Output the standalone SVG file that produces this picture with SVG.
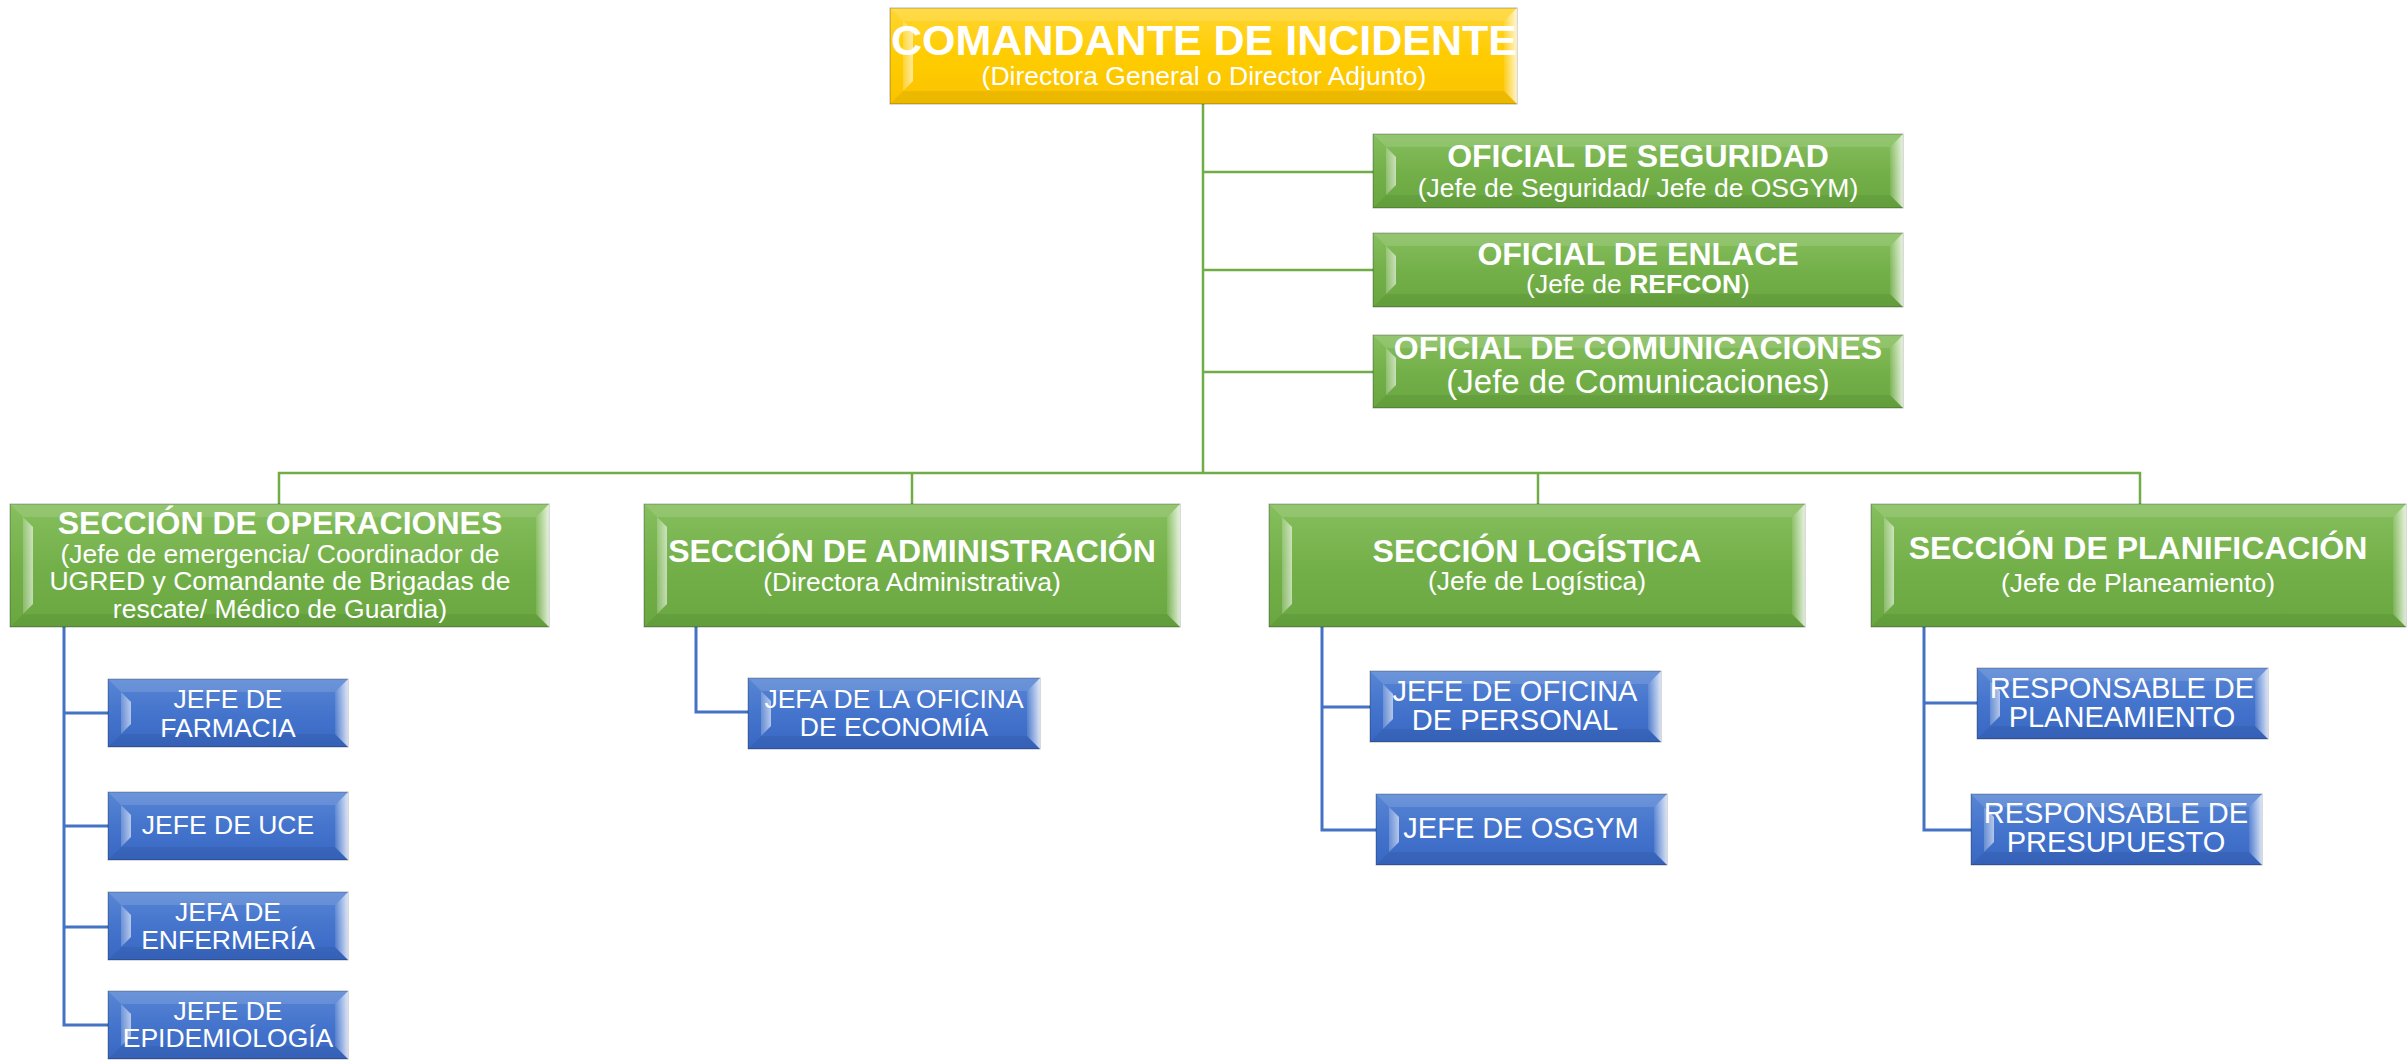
<svg xmlns="http://www.w3.org/2000/svg" width="2407" height="1060" viewBox="0 0 2407 1060">
<style>
  .g .face{fill:url(#faceG)}
  .b .face{fill:url(#faceB)}
  .y .face{fill:url(#faceY)}
  .face{stroke:#000;stroke-opacity:.3;stroke-width:1}
  .top{fill:#fff;fill-opacity:.12}
  .bot{fill:#000;fill-opacity:.06}
  .ls{fill:url(#lstrip)}
  .rb{fill:url(#rbev)}
  text{fill:#fff;font-family:"Liberation Sans",Arial,sans-serif;text-anchor:middle}
  .h{font-weight:bold;font-size:32px}
  .s{font-size:26.5px}
  .c{font-size:26.5px}
  .c2{font-size:29px}
  .lg{stroke:#70ad47;stroke-width:2.5;fill:none}
  .lb{stroke:#4472c4;stroke-width:3;fill:none}
</style>
<defs>
  <linearGradient id="faceG" x1="0" y1="0" x2="0" y2="1"><stop offset="0" stop-color="#86bf5e"/><stop offset="0.5" stop-color="#74b04a"/><stop offset="1" stop-color="#69a740"/></linearGradient>
  <linearGradient id="faceB" x1="0" y1="0" x2="0" y2="1"><stop offset="0" stop-color="#5886d5"/><stop offset="0.5" stop-color="#4474cc"/><stop offset="1" stop-color="#3868c3"/></linearGradient>
  <linearGradient id="faceY" x1="0" y1="0" x2="0" y2="1"><stop offset="0" stop-color="#ffd633"/><stop offset="0.5" stop-color="#ffcc00"/><stop offset="1" stop-color="#fac300"/></linearGradient>
  <linearGradient id="lstrip" x1="0" y1="0" x2="1" y2="0"><stop offset="0" stop-color="#fff" stop-opacity=".2"/><stop offset="1" stop-color="#fff" stop-opacity=".6"/></linearGradient>
  <linearGradient id="rbev" x1="0" y1="0" x2="1" y2="0"><stop offset="0" stop-color="#fff" stop-opacity=".1"/><stop offset="1" stop-color="#fff" stop-opacity=".8"/></linearGradient>
</defs>
<rect width="2407" height="1060" fill="#fff"/>
<g id="connectors">
  <path class="lg" d="M1203,104 V473" stroke-width="3"/>
  <path class="lg" d="M1203,172 H1373 M1203,270 H1373 M1203,372 H1373"/>
  <path class="lg" d="M279,504 V473 H2140 V504 M912,473 V504 M1538,473 V504"/>
  <path class="lb" d="M64,627 V1025 H108 M64,713 H108 M64,826 H108 M64,927 H108"/>
  <path class="lb" d="M696,627 V712 H748"/>
  <path class="lb" d="M1322,627 V830 H1376 M1322,707 H1370"/>
  <path class="lb" d="M1924,627 V830 H1971 M1924,703 H1977"/>
</g>
<g id="comandante" class="y">
  <rect class="face" x="890" y="8" width="627" height="96"/>
  <polygon class="top" points="890,8 1517,8 1504,21 903,21"/>
  <polygon class="bot" points="890,104 1517,104 1504,91 903,91"/>
  <polygon class="ls" points="903,21 913,31 913,81 903,91"/>
  <polygon class="rb" points="1504,21 1517,8 1517,104 1504,91"/>
  <text x="1204" y="55" font-weight="bold" font-size="43">COMANDANTE DE INCIDENTE</text>
  <text class="s" x="1204" y="85">(Directora General o Director Adjunto)</text>
</g>
<g id="seguridad" class="g">
  <rect class="face" x="1373" y="134" width="530" height="74"/>
  <polygon class="top" points="1373,134 1903,134 1890,147 1386,147"/>
  <polygon class="bot" points="1373,208 1903,208 1890,195 1386,195"/>
  <polygon class="ls" points="1386,147 1396,157 1396,185 1386,195"/>
  <polygon class="rb" points="1890,147 1903,134 1903,208 1890,195"/>
  <text class="h" x="1638" y="167">OFICIAL DE SEGURIDAD</text>
  <text class="s" x="1638" y="197">(Jefe de Seguridad/ Jefe de OSGYM)</text>
</g>
<g id="enlace" class="g">
  <rect class="face" x="1373" y="233" width="530" height="74"/>
  <polygon class="top" points="1373,233 1903,233 1890,246 1386,246"/>
  <polygon class="bot" points="1373,307 1903,307 1890,294 1386,294"/>
  <polygon class="ls" points="1386,246 1396,256 1396,284 1386,294"/>
  <polygon class="rb" points="1890,246 1903,233 1903,307 1890,294"/>
  <text class="h" x="1638" y="265">OFICIAL DE ENLACE</text>
  <text class="s" x="1638" y="293">(Jefe de <tspan font-weight="bold">REFCON</tspan>)</text>
</g>
<g id="comunicaciones" class="g">
  <rect class="face" x="1373" y="335" width="530" height="73"/>
  <polygon class="top" points="1373,335 1903,335 1890,348 1386,348"/>
  <polygon class="bot" points="1373,408 1903,408 1890,395 1386,395"/>
  <polygon class="ls" points="1386,348 1396,358 1396,385 1386,395"/>
  <polygon class="rb" points="1890,348 1903,335 1903,408 1890,395"/>
  <text class="h" x="1638" y="359">OFICIAL DE COMUNICACIONES</text>
  <text x="1638" y="393" font-size="33">(Jefe de Comunicaciones)</text>
</g>
<g id="operaciones" class="g">
  <rect class="face" x="10" y="504" width="539" height="123"/>
  <polygon class="top" points="10,504 549,504 536,517 23,517"/>
  <polygon class="bot" points="10,627 549,627 536,614 23,614"/>
  <polygon class="ls" points="23,517 33,527 33,604 23,614"/>
  <polygon class="rb" points="536,517 549,504 549,627 536,614"/>
  <text class="h" x="280" y="534">SECCIÓN DE OPERACIONES</text>
  <text class="s" x="280" y="563">(Jefe de emergencia/ Coordinador de</text>
  <text class="s" x="280" y="590">UGRED y Comandante de Brigadas de</text>
  <text class="s" x="280" y="618">rescate/ Médico de Guardia)</text>
</g>
<g id="administracion" class="g">
  <rect class="face" x="644" y="504" width="536" height="123"/>
  <polygon class="top" points="644,504 1180,504 1167,517 657,517"/>
  <polygon class="bot" points="644,627 1180,627 1167,614 657,614"/>
  <polygon class="ls" points="657,517 667,527 667,604 657,614"/>
  <polygon class="rb" points="1167,517 1180,504 1180,627 1167,614"/>
  <text class="h" x="912" y="562">SECCIÓN DE ADMINISTRACIÓN</text>
  <text class="s" x="912" y="591">(Directora Administrativa)</text>
</g>
<g id="logistica" class="g">
  <rect class="face" x="1269" y="504" width="536" height="123"/>
  <polygon class="top" points="1269,504 1805,504 1792,517 1282,517"/>
  <polygon class="bot" points="1269,627 1805,627 1792,614 1282,614"/>
  <polygon class="ls" points="1282,517 1292,527 1292,604 1282,614"/>
  <polygon class="rb" points="1792,517 1805,504 1805,627 1792,614"/>
  <text class="h" x="1537" y="562">SECCIÓN LOGÍSTICA</text>
  <text class="s" x="1537" y="590">(Jefe de Logística)</text>
</g>
<g id="planificacion" class="g">
  <rect class="face" x="1871" y="504" width="535" height="123"/>
  <polygon class="top" points="1871,504 2406,504 2393,517 1884,517"/>
  <polygon class="bot" points="1871,627 2406,627 2393,614 1884,614"/>
  <polygon class="ls" points="1884,517 1894,527 1894,604 1884,614"/>
  <polygon class="rb" points="2393,517 2406,504 2406,627 2393,614"/>
  <text class="h" x="2138" y="559">SECCIÓN DE PLANIFICACIÓN</text>
  <text class="s" x="2138" y="592">(Jefe de Planeamiento)</text>
</g>
<g id="farmacia" class="b">
  <rect class="face" x="108" y="679" width="240" height="68"/>
  <polygon class="top" points="108,679 348,679 335,692 121,692"/>
  <polygon class="bot" points="108,747 348,747 335,734 121,734"/>
  <polygon class="ls" points="121,692 131,702 131,724 121,734"/>
  <polygon class="rb" points="335,692 348,679 348,747 335,734"/>
  <text class="c" x="228" y="708">JEFE DE</text>
  <text class="c" x="228" y="737">FARMACIA</text>
</g>
<g id="uce" class="b">
  <rect class="face" x="108" y="792" width="240" height="68"/>
  <polygon class="top" points="108,792 348,792 335,805 121,805"/>
  <polygon class="bot" points="108,860 348,860 335,847 121,847"/>
  <polygon class="ls" points="121,805 131,815 131,837 121,847"/>
  <polygon class="rb" points="335,805 348,792 348,860 335,847"/>
  <text class="c" x="228" y="834">JEFE DE UCE</text>
</g>
<g id="enfermeria" class="b">
  <rect class="face" x="108" y="892" width="240" height="68"/>
  <polygon class="top" points="108,892 348,892 335,905 121,905"/>
  <polygon class="bot" points="108,960 348,960 335,947 121,947"/>
  <polygon class="ls" points="121,905 131,915 131,937 121,947"/>
  <polygon class="rb" points="335,905 348,892 348,960 335,947"/>
  <text class="c" x="228" y="921">JEFA DE</text>
  <text class="c" x="228" y="949">ENFERMERÍA</text>
</g>
<g id="epidemiologia" class="b">
  <rect class="face" x="108" y="991" width="240" height="68"/>
  <polygon class="top" points="108,991 348,991 335,1004 121,1004"/>
  <polygon class="bot" points="108,1059 348,1059 335,1046 121,1046"/>
  <polygon class="ls" points="121,1004 131,1014 131,1036 121,1046"/>
  <polygon class="rb" points="335,1004 348,991 348,1059 335,1046"/>
  <text class="c" x="228" y="1020">JEFE DE</text>
  <text class="c" x="228" y="1047">EPIDEMIOLOGÍA</text>
</g>
<g id="economia" class="b">
  <rect class="face" x="748" y="678" width="292" height="71"/>
  <polygon class="top" points="748,678 1040,678 1027,691 761,691"/>
  <polygon class="bot" points="748,749 1040,749 1027,736 761,736"/>
  <polygon class="ls" points="761,691 771,701 771,726 761,736"/>
  <polygon class="rb" points="1027,691 1040,678 1040,749 1027,736"/>
  <text class="c" x="894" y="708">JEFA DE LA OFICINA</text>
  <text class="c" x="894" y="736">DE ECONOMÍA</text>
</g>
<g id="personal" class="b">
  <rect class="face" x="1370" y="671" width="291" height="71"/>
  <polygon class="top" points="1370,671 1661,671 1648,684 1383,684"/>
  <polygon class="bot" points="1370,742 1661,742 1648,729 1383,729"/>
  <polygon class="ls" points="1383,684 1393,694 1393,719 1383,729"/>
  <polygon class="rb" points="1648,684 1661,671 1661,742 1648,729"/>
  <text class="c2" x="1515" y="701">JEFE DE OFICINA</text>
  <text class="c2" x="1515" y="730">DE PERSONAL</text>
</g>
<g id="osgym" class="b">
  <rect class="face" x="1376" y="794" width="291" height="71"/>
  <polygon class="top" points="1376,794 1667,794 1654,807 1389,807"/>
  <polygon class="bot" points="1376,865 1667,865 1654,852 1389,852"/>
  <polygon class="ls" points="1389,807 1399,817 1399,842 1389,852"/>
  <polygon class="rb" points="1654,807 1667,794 1667,865 1654,852"/>
  <text class="c2" x="1521" y="838">JEFE DE OSGYM</text>
</g>
<g id="planeamiento" class="b">
  <rect class="face" x="1977" y="668" width="291" height="71"/>
  <polygon class="top" points="1977,668 2268,668 2255,681 1990,681"/>
  <polygon class="bot" points="1977,739 2268,739 2255,726 1990,726"/>
  <polygon class="ls" points="1990,681 2000,691 2000,716 1990,726"/>
  <polygon class="rb" points="2255,681 2268,668 2268,739 2255,726"/>
  <text class="c2" x="2122" y="698">RESPONSABLE DE</text>
  <text class="c2" x="2122" y="727">PLANEAMIENTO</text>
</g>
<g id="presupuesto" class="b">
  <rect class="face" x="1971" y="794" width="291" height="71"/>
  <polygon class="top" points="1971,794 2262,794 2249,807 1984,807"/>
  <polygon class="bot" points="1971,865 2262,865 2249,852 1984,852"/>
  <polygon class="ls" points="1984,807 1994,817 1994,842 1984,852"/>
  <polygon class="rb" points="2249,807 2262,794 2262,865 2249,852"/>
  <text class="c2" x="2116" y="823">RESPONSABLE DE</text>
  <text class="c2" x="2116" y="852">PRESUPUESTO</text>
</g>
</svg>
